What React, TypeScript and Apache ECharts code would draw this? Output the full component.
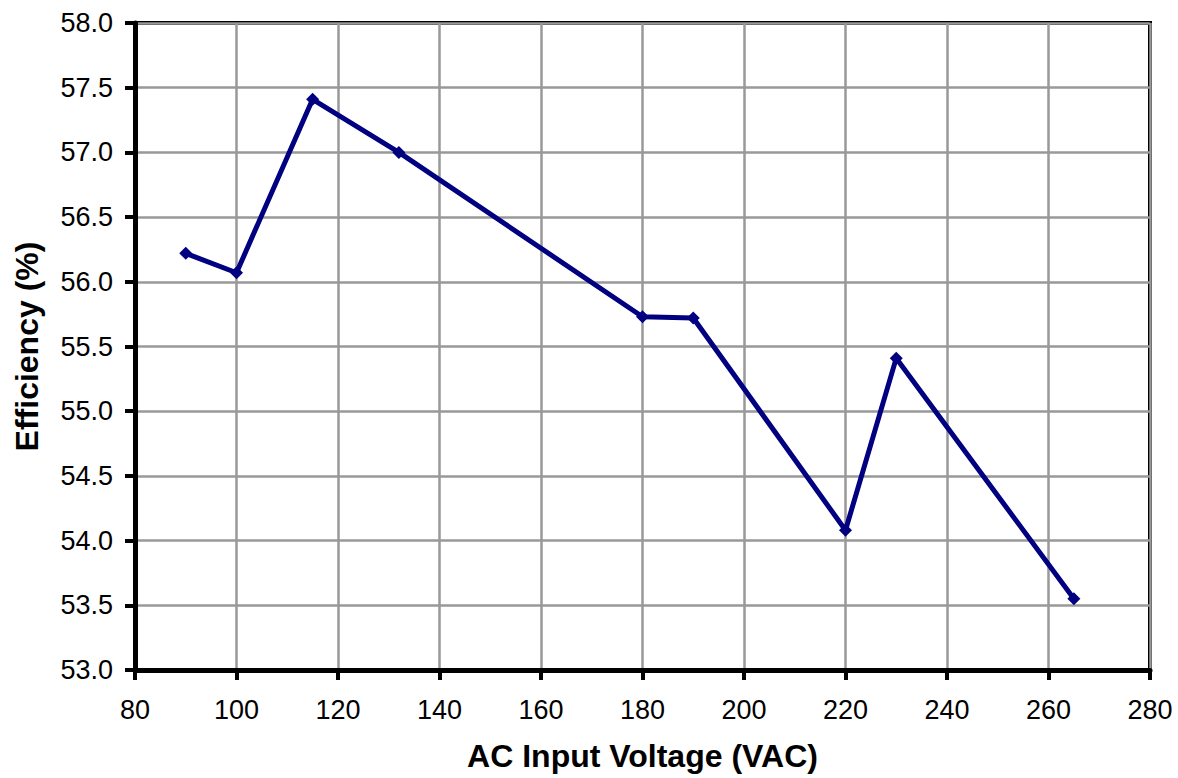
import React, { useEffect, useRef } from "react";
import * as echarts from "echarts";

const voltages = [90, 100, 115, 132, 180, 190, 220, 230, 265];
const efficiency = [56.22, 56.07, 57.41, 57.0, 55.73, 55.72, 54.08, 55.41, 53.55];
const xTitle = "AC Input Voltage (VAC)";
const yTitle = "Efficiency (%)";

export default function App() {
  const ref = useRef<HTMLDivElement>(null);
  useEffect(() => {
    if (!ref.current) return;
    const chart = echarts.init(ref.current, null, { renderer: "svg" });
    const font = "'Liberation Sans', Arial, sans-serif";
    chart.setOption({
      animation: false,
      backgroundColor: "#ffffff",
      grid: {
        left: 135,
        right: 28,
        top: 23,
        bottom: 108,
        show: true,
        borderColor: "#000",
        borderWidth: 4,
      },
      xAxis: {
        type: "value",
        min: 80,
        max: 280,
        interval: 20,
        name: xTitle,
        nameLocation: "middle",
        nameGap: 70,
        nameTextStyle: { fontFamily: font, fontSize: 32, fontWeight: "bold", color: "#000" },
        axisLine: { show: true, onZero: false, lineStyle: { color: "#000", width: 5 } },
        axisTick: { show: true, length: 10, lineStyle: { color: "#000", width: 4 } },
        axisLabel: { fontFamily: font, fontSize: 27, color: "#000", margin: 26 },
        splitLine: { show: true, lineStyle: { color: "#999", width: 2.5 } },
      },
      yAxis: {
        type: "value",
        min: 53,
        max: 58,
        interval: 0.5,
        name: yTitle,
        nameLocation: "middle",
        nameGap: 92,
        nameTextStyle: { fontFamily: font, fontSize: 32, fontWeight: "bold", color: "#000" },
        axisLine: { show: true, onZero: false, lineStyle: { color: "#000", width: 5 } },
        axisTick: { show: true, length: 10, lineStyle: { color: "#000", width: 4 } },
        axisLabel: {
          fontFamily: font,
          fontSize: 27,
          color: "#000",
          margin: 22,
          formatter: (v: number) => v.toFixed(1),
        },
        splitLine: { show: true, lineStyle: { color: "#999", width: 2.5 } },
      },
      series: [
        {
          type: "line",
          data: voltages.map((v, i) => [v, efficiency[i]]),
          lineStyle: { color: "#000080", width: 5 },
          itemStyle: { color: "#000080" },
          symbol: "diamond",
          symbolSize: 13,
          showSymbol: true,
        },
      ],
    });
    return () => chart.dispose();
  }, []);
  return (
    <div
      ref={ref}
      style={{ position: "absolute", left: 0, top: 0, width: 1178, height: 778 }}
    />
  );
}
